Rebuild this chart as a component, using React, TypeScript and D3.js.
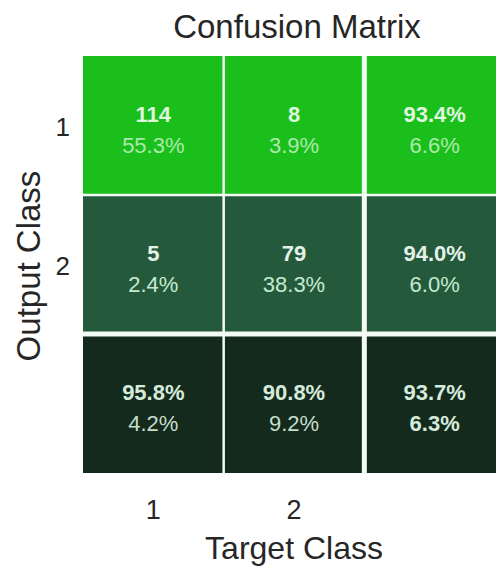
import React, { useEffect, useRef } from 'react';
import * as d3 from 'd3';

// confusion matrix values, rows = output class, cols = target class
const classes = ['1', '2'];
const counts = [[114, 8], [5, 79]];
const cellPcts = [['55.3%', '3.9%'], ['2.4%', '38.3%']];
const rowSummary = [['93.4%', '6.6%'], ['94.0%', '6.0%']];
const colSummary = [['95.8%', '4.2%'], ['90.8%', '9.2%']];
const overall = ['93.7%', '6.3%'];

const rowColors = ['#1bbf1b', '#245a3b', '#132a1d'];
const topText = ['#def7de', '#e4f1e8', '#d6eadb'];
const subText = ['#abe9ab', '#c4ead0', '#c6ddca'];

const W = 496;
const H = 567;
const font = '"Liberation Sans", Arial, Helvetica, sans-serif';

const drawMatrix = (node: SVGSVGElement) => {
	const svg = d3.select(node);
	svg.selectAll('*').remove();

	const keys = [...classes, 'all'];
	const x = d3.scaleBand().domain(keys).range([83, 505]);
	const y = d3.scaleBand().domain(keys).range([56, 473]);

	const cells: { r: string; c: string; top: string; sub: string; ri: number; bothBold: boolean }[] = [];
	classes.forEach((r, ri) => {
		classes.forEach((c, ci) => {
			cells.push({ r, c, ri, top: String(counts[ri][ci]), sub: cellPcts[ri][ci], bothBold: false });
		});
		cells.push({ r, c: 'all', ri, top: rowSummary[ri][0], sub: rowSummary[ri][1], bothBold: false });
	});
	classes.forEach((c, ci) => {
		cells.push({ r: 'all', c, ri: 2, top: colSummary[ci][0], sub: colSummary[ci][1], bothBold: false });
	});
	cells.push({ r: 'all', c: 'all', ri: 2, top: overall[0], sub: overall[1], bothBold: true });

	const g = svg.append('g');
	g.selectAll('rect').data(cells)
		.enter()
		.append('rect')
		.attr('x', (d) => x(d.c))
		.attr('y', (d) => y(d.r))
		.attr('width', x.bandwidth())
		.attr('height', y.bandwidth())
		.attr('fill', (d) => rowColors[d.ri]);

	// separators: thin between classes, thick before the summary row/column
	const sep = svg.append('g').attr('stroke', '#f4fbf5');
	keys.slice(1).forEach((k) => {
		const thick = k === 'all';
		sep.append('line')
			.attr('x1', x(k)).attr('x2', x(k))
			.attr('y1', 56).attr('y2', 473)
			.attr('stroke-width', thick ? 5 : 2.5);
		sep.append('line')
			.attr('y1', y(k)).attr('y2', y(k))
			.attr('x1', 83).attr('x2', 505)
			.attr('stroke-width', thick ? 5 : 2.5);
	});

	const labels = svg.append('g')
		.attr('font-family', font)
		.attr('font-size', 22)
		.attr('text-anchor', 'middle');
	const cx = (d) => x(d.c) + x.bandwidth() / 2;
	const cy = (d) => y(d.r) + y.bandwidth() / 2;
	labels.selectAll('text.top').data(cells)
		.enter()
		.append('text')
		.attr('class', 'top')
		.attr('x', cx)
		.attr('y', (d) => cy(d) - 4)
		.attr('font-weight', 'bold')
		.attr('fill', (d) => topText[d.ri])
		.text((d) => d.top);
	labels.selectAll('text.sub').data(cells)
		.enter()
		.append('text')
		.attr('class', 'sub')
		.attr('x', cx)
		.attr('y', (d) => cy(d) + 27)
		.attr('font-weight', (d) => (d.bothBold ? 'bold' : 'normal'))
		.attr('fill', (d) => (d.bothBold ? topText[d.ri] : subText[d.ri]))
		.text((d) => d.sub);

	// tick labels
	const axes = svg.append('g')
		.attr('font-family', font)
		.attr('fill', '#262626');
	axes.selectAll('text.ytick').data(classes)
		.enter()
		.append('text')
		.attr('class', 'ytick')
		.attr('x', 70)
		.attr('y', (d) => y(d) + y.bandwidth() / 2 + 10)
		.attr('text-anchor', 'end')
		.attr('font-size', 26)
		.text((d) => d);
	axes.selectAll('text.xtick').data(classes)
		.enter()
		.append('text')
		.attr('class', 'xtick')
		.attr('x', (d) => x(d) + x.bandwidth() / 2)
		.attr('y', 519)
		.attr('text-anchor', 'middle')
		.attr('font-size', 27)
		.text((d) => d);

	axes.append('text')
		.attr('x', 297)
		.attr('y', 38)
		.attr('text-anchor', 'middle')
		.attr('font-size', 33)
		.text('Confusion Matrix');
	axes.append('text')
		.attr('x', 294)
		.attr('y', 559)
		.attr('text-anchor', 'middle')
		.attr('font-size', 32)
		.text('Target Class');
	axes.append('text')
		.attr('transform', 'translate(40,266) rotate(-90)')
		.attr('text-anchor', 'middle')
		.attr('font-size', 33)
		.text('Output Class');
};

const App = () => {
	const ref = useRef<SVGSVGElement>(null);

	useEffect(() => {
		if (ref.current) drawMatrix(ref.current);
	}, []);

	return (
		<svg ref={ ref } width={ W } height={ H }
			style={ { position: 'absolute', left: 0, top: 0, background: '#fff' } }/>
	);
};

export default App;
